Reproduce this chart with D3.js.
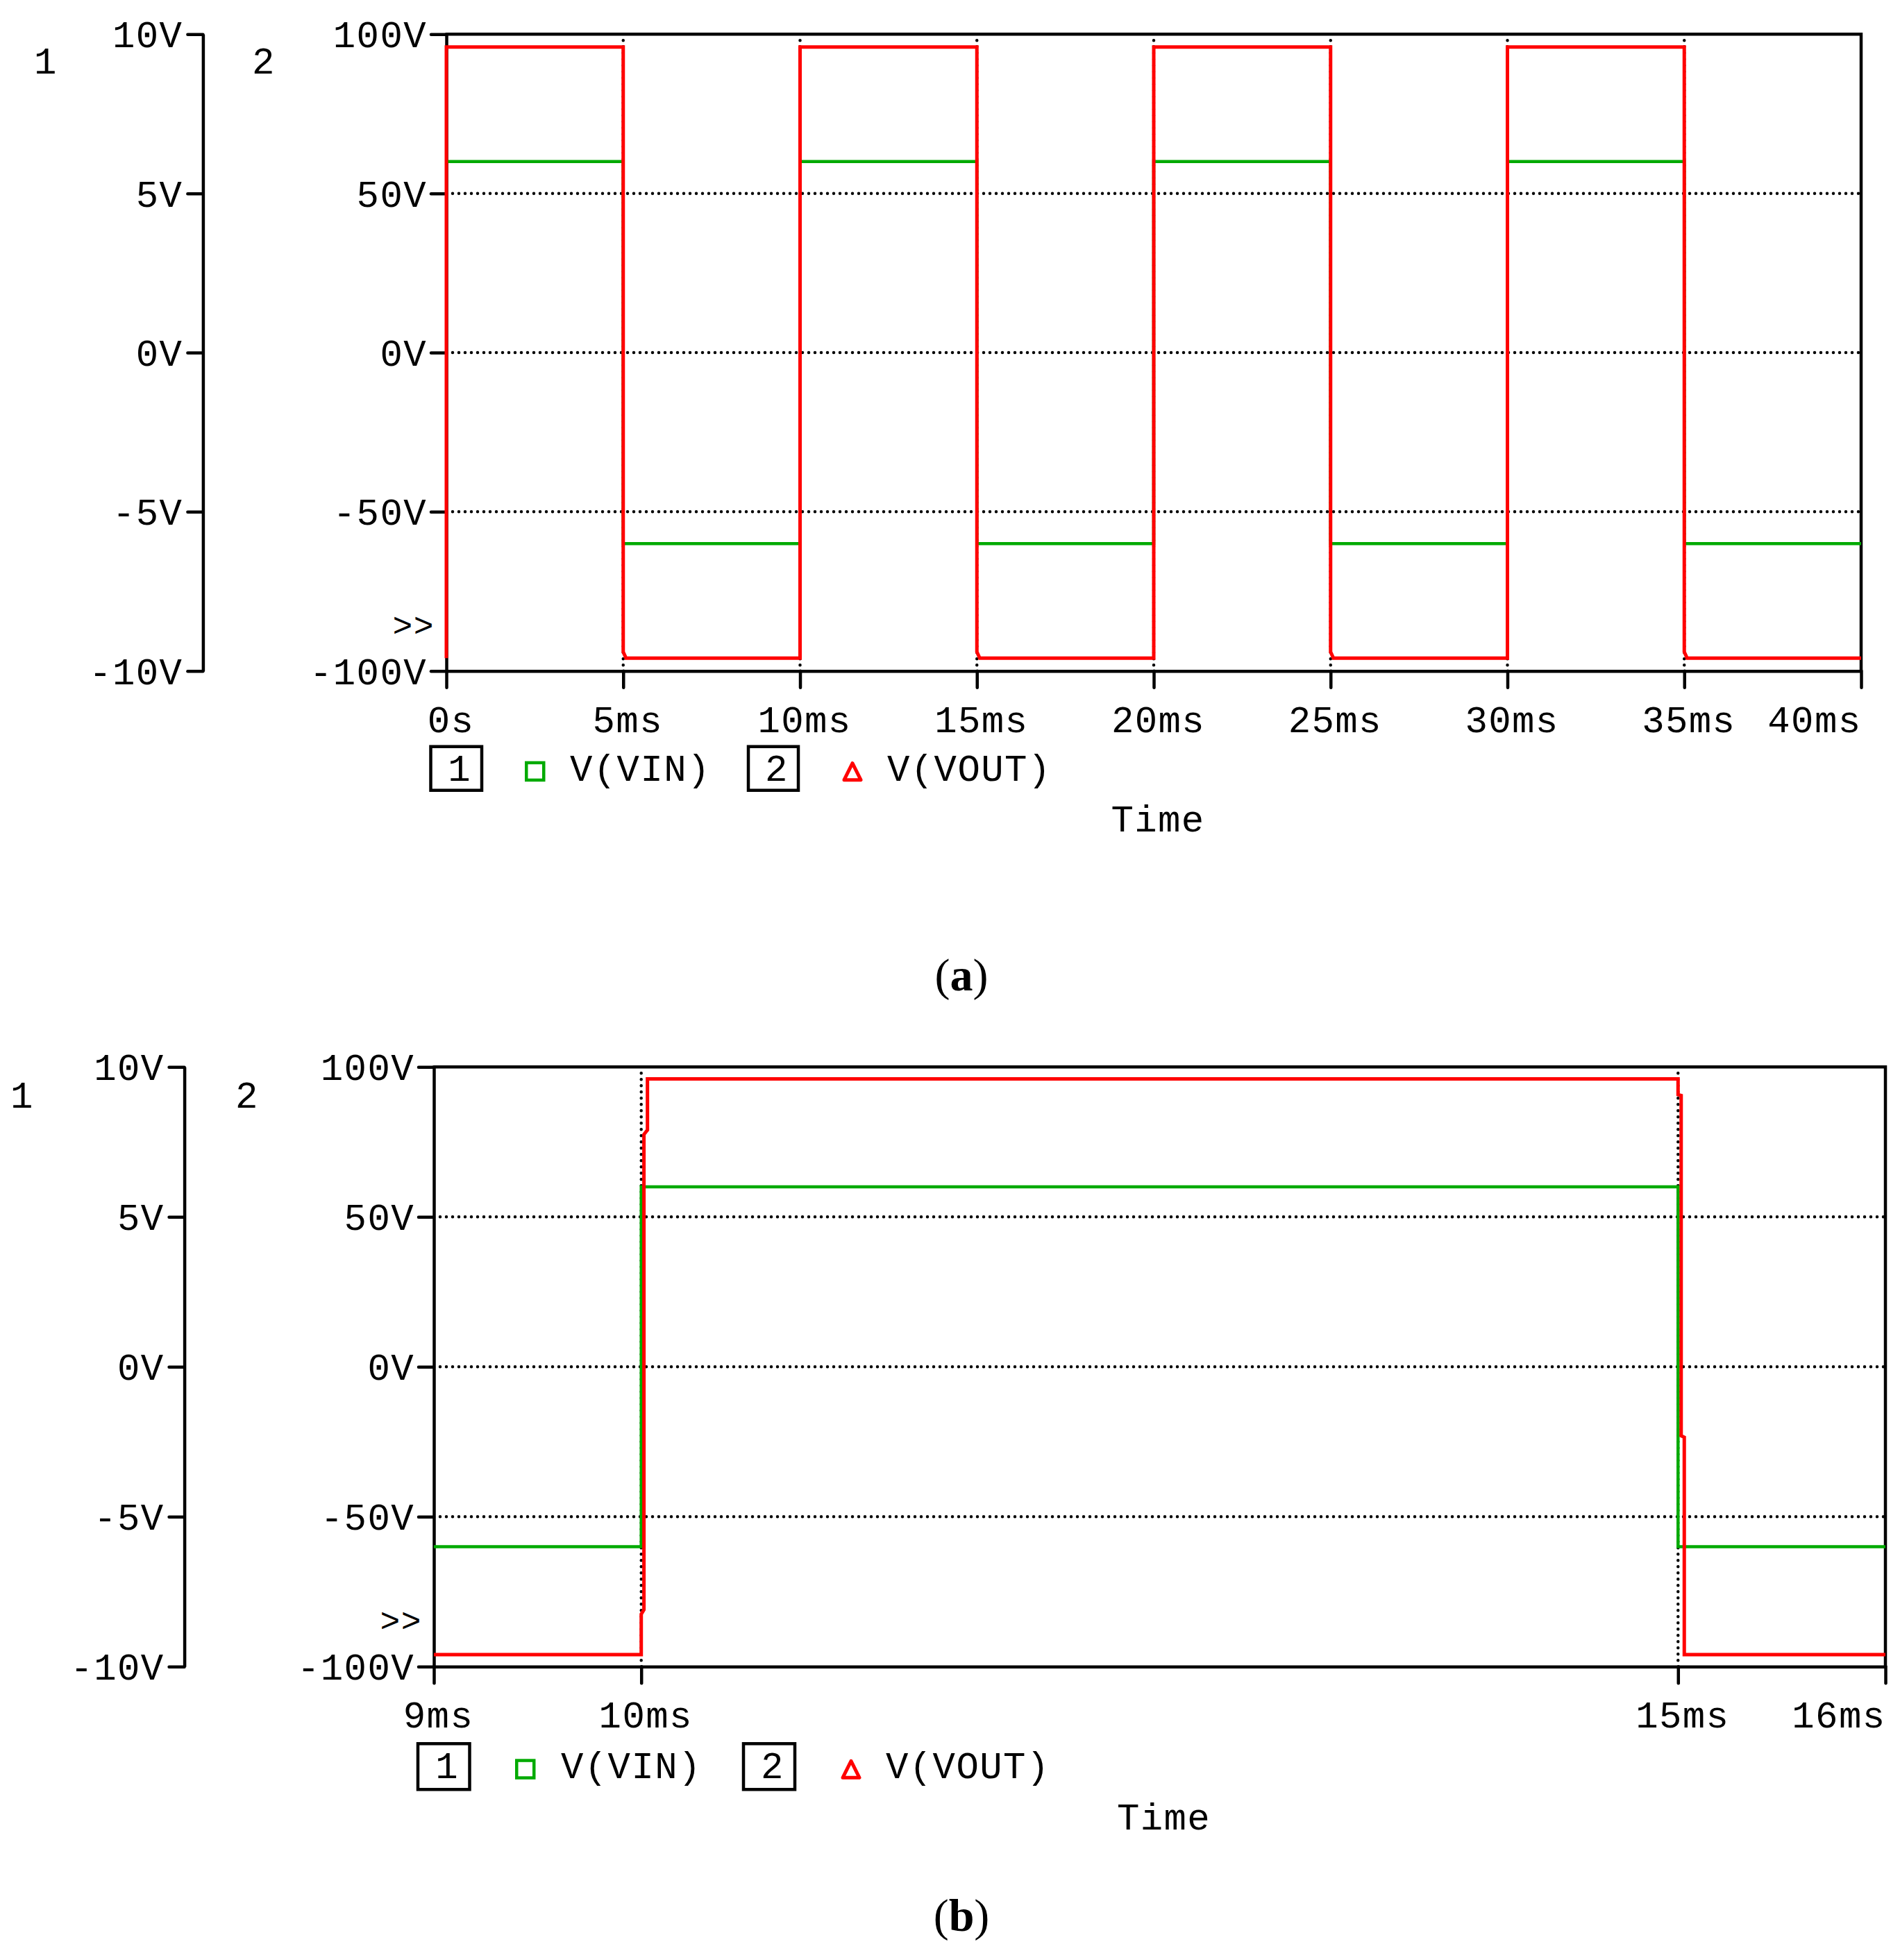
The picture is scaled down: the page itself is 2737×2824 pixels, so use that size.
<!DOCTYPE html>
<html>
<head>
<meta charset="utf-8">
<script src="https://cdn.jsdelivr.net/npm/d3@7"></script>
<style>
  html, body { margin: 0; padding: 0; background: #fff; }
  svg { display: block; }
  .mono { font-family: "Liberation Mono", "DejaVu Sans Mono", monospace; font-size: 54px; letter-spacing: 1.4px; fill: #000; }
</style>
</head>
<body>
<script>
// ---------------- DATA ----------------
const axis1Ticks = [10, 5, 0, -5, -10];
const axis1Labels = ["10V", "5V", "0V", "-5V", "-10V"];
const axis2Ticks = [100, 50, 0, -50, -100];
const axis2Labels = ["100V", "50V", "0V", "-50V", "-100V"];
const gridVolts = [50, 0, -50];

// Panel (a)
const timeTicksA = [0, 5, 10, 15, 20, 25, 30, 35, 40];
const timeLabelsA = ["0s", "5ms", "10ms", "15ms", "20ms", "25ms", "30ms", "35ms", "40ms"];
const vinA = [[0, 6], [5, 6], [5, -6], [10, -6], [10, 6], [15, 6], [15, -6], [20, -6], [20, 6],
              [25, 6], [25, -6], [30, -6], [30, 6], [35, 6], [35, -6], [40, -6]];
const voutA = [[0, -96], [0, 96], [5, 96], [5, -94], [5.08, -96], [10, -96], [10, 96], [15, 96],
               [15, -94], [15.08, -96], [20, -96], [20, 96], [25, 96], [25, -94], [25.08, -96],
               [30, -96], [30, 96], [35, 96], [35, -94], [35.08, -96], [40, -96]];

// Panel (b)
const timeTicksB = [9, 10, 15, 16];
const timeLabelsB = ["9ms", "10ms", "15ms", "16ms"];
const vinB = [[9, -6], [10, -6], [10, 6], [15, 6], [15, -6], [16, -6]];
const voutB = [[9, -96], [10, -96], [10, -82.5], [10.013, -81], [10.013, 77.5], [10.03, 79],
               [10.03, 96], [15, 96], [15, 90.8], [15.015, 90.5], [15.015, -23], [15.03, -23.5],
               [15.03, -96], [16, -96]];

const legendNames = ["V(VIN)", "V(VOUT)"];
const colors = { vin: "#00aa00", vout: "#ff0000" };

// ---------------- LAYOUT ----------------
const W = 2737, H = 2824;
const svg = d3.select("body").append("svg").attr("width", W).attr("height", H)
  .attr("viewBox", `0 0 ${W} ${H}`);
svg.append("rect").attr("width", W).attr("height", H).attr("fill", "#fff");

const panels = [
  { x0: 643, x1: 2681, yT: 49.3, yB: 966.7, axis1X: 292.4, lab1X: 66, lab2X: 380, labY: 106,
    ticks: timeTicksA, labels: timeLabelsA, domain: [0, 40], vin: vinA, vout: voutA,
    leg: { box1: [-22.5, 73.5], sq: 113, t1: 178, box2: [435, 72], tri: 570, t2: 635, boxY: [109, 63], sqY: 130, textY: 158 },
    timeY: 1198, cap: "a", capY: 1427 },
  { x0: 625, x1: 2716, yT: 1537.3, yB: 2401.3, axis1X: 265.6, lab1X: 32, lab2X: 356, labY: 1596,
    ticks: timeTicksB, labels: timeLabelsB, domain: [9, 16], vin: vinB, vout: voutB,
    leg: { box1: [-23, 74.5], sq: 117, t1: 183, box2: [446, 74], tri: 586, t2: 651, boxY: [111, 66], sqY: 133, textY: 161 },
    timeY: 2636, cap: "b", capY: 2782 }
];

const SW = 4.5;

panels.forEach(p => {
  const g = svg.append("g");
  const x = d3.scaleLinear().domain(p.domain).range([p.x0, p.x1]);
  const y1 = d3.scaleLinear().domain([-10, 10]).range([p.yB, p.yT]);
  const y2 = d3.scaleLinear().domain([-100, 100]).range([p.yB, p.yT]);

  // dotted grid
  const grid = g.append("g").attr("stroke", "#000").attr("stroke-width", 4.5)
    .attr("stroke-linecap", "round").attr("stroke-dasharray", "0 9").attr("fill", "none");
  gridVolts.forEach(v => grid.append("line")
    .attr("x1", p.x0 + 9).attr("x2", p.x1).attr("y1", y2(v)).attr("y2", y2(v)));
  p.ticks.slice(1, -1).forEach(t => grid.append("line")
    .attr("x1", x(t)).attr("x2", x(t)).attr("y1", p.yT + 9).attr("y2", p.yB));

  // frame: top and right
  g.append("path").attr("fill", "none").attr("stroke", "#000").attr("stroke-width", SW)
    .attr("stroke-linecap", "round")
    .attr("d", `M${p.x0},${p.yT}H${p.x1}V${p.yB}`);

  // axis 1 (left, separate)
  const ax1 = g.append("g").attr("transform", `translate(${p.axis1X},0)`)
    .call(d3.axisLeft(y1).tickValues(axis1Ticks).tickSize(22).tickSizeOuter(0).tickPadding(7)
      .tickFormat((d, i) => axis1Labels[i]));
  // axis 2 (at plot left)
  const ax2 = g.append("g").attr("transform", `translate(${p.x0},0)`)
    .call(d3.axisLeft(y2).tickValues(axis2Ticks).tickSize(22).tickSizeOuter(0).tickPadding(6)
      .tickFormat((d, i) => axis2Labels[i]));
  // x axis
  const axx = g.append("g").attr("transform", `translate(0,${p.yB})`)
    .call(d3.axisBottom(x).tickValues(p.ticks).tickSize(24).tickSizeOuter(0).tickPadding(0)
      .tickFormat((d, i) => p.labels[i]));

  [ax1, ax2, axx].forEach(a => {
    a.attr("font-family", null).attr("font-size", null);
    a.selectAll("path.domain").attr("stroke", "#000").attr("stroke-width", SW);
    a.selectAll(".tick line").attr("stroke", "#000").attr("stroke-width", SW).attr("stroke-linecap", "round");
    a.selectAll(".tick text").attr("class", "mono").attr("fill", "#000");
  });
  [ax1, ax2].forEach(a => a.selectAll(".tick text").attr("dy", "0.34em"));
  axx.selectAll(".tick text").attr("y", 88).attr("dy", 0).attr("dx", 6);
  axx.selectAll(".tick text").filter((d, i, n) => i === n.length - 1)
    .attr("text-anchor", "end").attr("dx", 0);

  // axis numbers
  g.append("text").attr("class", "mono").attr("x", p.lab1X).attr("y", p.labY)
    .attr("text-anchor", "middle").text("1");
  g.append("text").attr("class", "mono").attr("x", p.lab2X).attr("y", p.labY)
    .attr("text-anchor", "middle").text("2");

  // ">>" marker
  g.append("text").attr("class", "mono").attr("x", p.x0 - 17).attr("y", p.yB - 50)
    .attr("text-anchor", "end").style("font-size", "48px").text(">>");

  // data lines
  const lineVin = d3.line().x(d => x(d[0])).y(d => y1(d[1]));
  const lineVout = d3.line().x(d => x(d[0])).y(d => y2(d[1]));
  g.append("path").datum(p.vin).attr("d", lineVin).attr("fill", "none")
    .attr("stroke", colors.vin).attr("stroke-width", 4.5).attr("stroke-linejoin", "miter");
  g.append("path").datum(p.vout).attr("d", lineVout).attr("fill", "none")
    .attr("stroke", colors.vout).attr("stroke-width", 5).attr("stroke-linejoin", "miter");

  // legend
  const L = p.leg, lt = p.yB;
  const box = (bx, bw, label) => {
    g.append("rect").attr("x", p.x0 + bx).attr("y", lt + L.boxY[0]).attr("width", bw)
      .attr("height", L.boxY[1]).attr("fill", "none").attr("stroke", "#000").attr("stroke-width", SW);
    g.append("text").attr("class", "mono").attr("x", p.x0 + bx + bw / 2 + 5).attr("y", lt + L.textY)
      .attr("text-anchor", "middle").text(label);
  };
  box(L.box1[0], L.box1[1], "1");
  box(L.box2[0], L.box2[1], "2");
  g.append("rect").attr("x", p.x0 + L.sq + 2.25).attr("y", lt + L.sqY + 2.25).attr("width", 25).attr("height", 25)
    .attr("fill", "none").attr("stroke", colors.vin).attr("stroke-width", 4.5);
  const tx = p.x0 + L.tri, ty = lt + L.sqY;
  g.append("path").attr("d", `M${tx + 15},${ty + 3}L${tx + 27},${ty + 27}L${tx + 3},${ty + 27}Z`)
    .attr("fill", "none").attr("stroke", colors.vout).attr("stroke-width", 5).attr("stroke-linejoin", "round");
  g.append("text").attr("class", "mono").attr("x", p.x0 + L.t1).attr("y", lt + L.textY).text(legendNames[0]);
  g.append("text").attr("class", "mono").attr("x", p.x0 + L.t2).attr("y", lt + L.textY).text(legendNames[1]);

  // Time label
  g.append("text").attr("class", "mono").attr("x", (p.x0 + p.x1) / 2 + 6).attr("y", p.timeY)
    .attr("text-anchor", "middle").text("Time");

  // caption
  const cap = g.append("text").attr("x", 1385).attr("y", p.capY).attr("text-anchor", "middle")
    .attr("font-family", "Liberation Serif, serif").attr("font-size", 66).attr("fill", "#000");
  cap.append("tspan").text("(");
  cap.append("tspan").attr("font-weight", "bold").text(p.cap);
  cap.append("tspan").text(")");
});
</script>
</body>
</html>
